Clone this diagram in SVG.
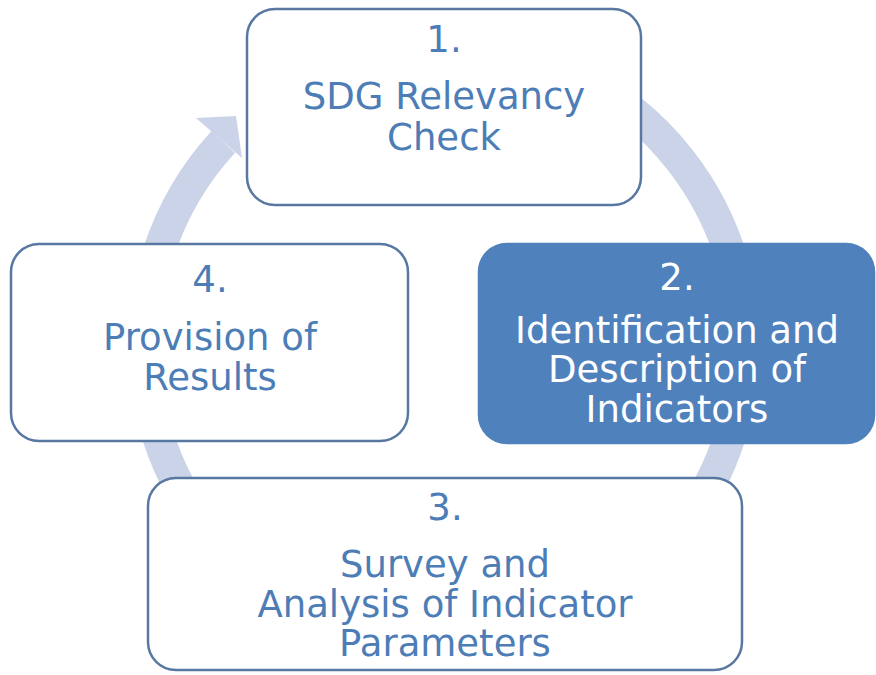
<svg xmlns="http://www.w3.org/2000/svg" width="876" height="675" viewBox="0 0 876 675">
<style>
.box{fill:#ffffff;stroke:#5878a2;stroke-width:2.5}
.dark{fill:#4f81bd;stroke:#4f81bd;stroke-width:2.5}
.t{font-family:"DejaVu Sans",Verdana,sans-serif;font-size:37px;fill:#4d7db6;text-anchor:middle}
.w{fill:#ffffff}
.ring{fill:none;stroke:#cbd3e8;stroke-width:32}
</style>
<rect width="876" height="675" fill="#ffffff"/>
<g id="connectors">
<path class="ring" d="M 444 45 A 300 300 0 1 1 223.3 141.8"/>
<polygon points="196,118 236,116 242,158" fill="#cbd3e8"/>
</g>
<g id="node1">
<rect class="box" x="247" y="9" width="394" height="196" rx="28"/>
<text class="t" x="444" y="52">1.</text>
<text class="t" x="444" y="109">SDG Relevancy</text>
<text class="t" x="444" y="150">Check</text>
</g>
<g id="node2">
<rect class="dark" x="479" y="244" width="395" height="199" rx="28"/>
<text class="t w" x="677" y="290">2.</text>
<text class="t w" x="677" y="343">Identification and</text>
<text class="t w" x="677" y="382">Description of</text>
<text class="t w" x="677" y="422">Indicators</text>
</g>
<g id="node3">
<rect class="box" x="148" y="478" width="594" height="192" rx="28"/>
<text class="t" x="445" y="520">3.</text>
<text class="t" x="445" y="577">Survey and</text>
<text class="t" x="445" y="617">Analysis of Indicator</text>
<text class="t" x="445" y="656">Parameters</text>
</g>
<g id="node4">
<rect class="box" x="11" y="244" width="397" height="197" rx="28"/>
<text class="t" x="210" y="292">4.</text>
<text class="t" x="210" y="350">Provision of</text>
<text class="t" x="210" y="390">Results</text>
</g>
</svg>
